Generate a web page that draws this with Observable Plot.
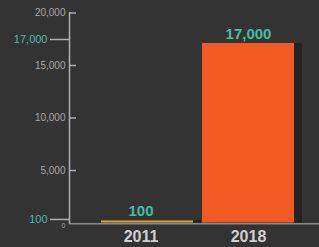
<!DOCTYPE html>
<html><head><meta charset="utf-8">
<script src="https://cdn.jsdelivr.net/npm/d3@7"></script>
<script src="https://cdn.jsdelivr.net/npm/@observablehq/plot@0.6"></script>
<style>html,body{margin:0;padding:0;background:#333333;}</style>
</head><body><div id="chart"></div>
<script>
const years = ["2011", "2018"];
const values = [100, 17000];
const barColors = ["#e0a532", "#f15a22"];
const yTicks = [0, 5000, 10000, 15000, 20000];
const highlightTicks = [100, 17000];

const data = years.map((y, i) => ({year: y, value: values[i], color: barColors[i]}));
const W = 319, H = 247, ML = 69, MR = 0;
const plotW = W - ML - MR;
const teal = "#43bfa2";
const grey = "#b0b0b0";
const fmt = d3.format(",");
const hlOffset = {100: -2.5, 17000: -5};
const labelOffset = {"2011": -6.5, "2018": 0};

const hlMarks = highlightTicks.flatMap(v => [
  Plot.tickY([v], {y: d => d, stroke: grey, strokeWidth: 1.5, insetRight: plotW - 19, dx: -19, dy: hlOffset[v]}),
  Plot.text([v], {y: d => d, text: d => fmt(d), frameAnchor: "left", textAnchor: "end", dx: -22, dy: hlOffset[v], fill: teal, fontSize: 11})
]);
const labelMarks = years.flatMap(yr => [
  Plot.text(data.filter(d => d.year === yr), {x: "year", y: "value", text: d => fmt(d.value), lineAnchor: "bottom", dy: -6, dx: labelOffset[yr], fill: teal, fontSize: 15, fontWeight: "bold"}),
  Plot.text(data.filter(d => d.year === yr), {x: "year", text: "year", frameAnchor: "bottom", lineAnchor: "middle", dy: 14, dx: labelOffset[yr], fill: "#cfcfcf", fontSize: 16, fontWeight: "bold"})
]);

const chart = Plot.plot({
  width: W, height: H,
  marginLeft: ML, marginRight: MR, marginTop: 12.5, marginBottom: 24.5,
  style: {background: "#333333", fontFamily: "Liberation Sans, Arial, sans-serif"},
  x: {type: "band", domain: years, range: [95.4, 299.4], paddingInner: 0.09, paddingOuter: 0.045, axis: null},
  y: {domain: [0, 20000], axis: null},
  marks: [
    Plot.ruleY([0], {stroke: "#8a8a8a", strokeWidth: 1.5, dy: 0.8}),
    Plot.barY(data, {x: "year", y: "value", fill: "#242424", dx: 8, insetTop: -1}),
    Plot.barY(data, {x: "year", y: "value", fill: "color", insetTop: -1}),
    Plot.frame({anchor: "left", stroke: grey, strokeWidth: 1.5}),
    Plot.tickY(yTicks.filter(d => d > 0), {y: d => d, stroke: grey, strokeWidth: 1.5, insetRight: plotW - 7}),
    Plot.text(yTicks.filter(d => d > 0), {y: d => d, text: d => fmt(d), frameAnchor: "left", textAnchor: "end", dx: -4, fill: "#a8a8a8", fontSize: 10}),
    Plot.text([0], {y: d => d, text: d => String(d), frameAnchor: "left", textAnchor: "end", dx: -4, dy: 3, fill: "#a8a8a8", fontSize: 7}),
    ...hlMarks,
    ...labelMarks
  ]
});
document.getElementById("chart").appendChild(chart);
</script>
</body></html>
